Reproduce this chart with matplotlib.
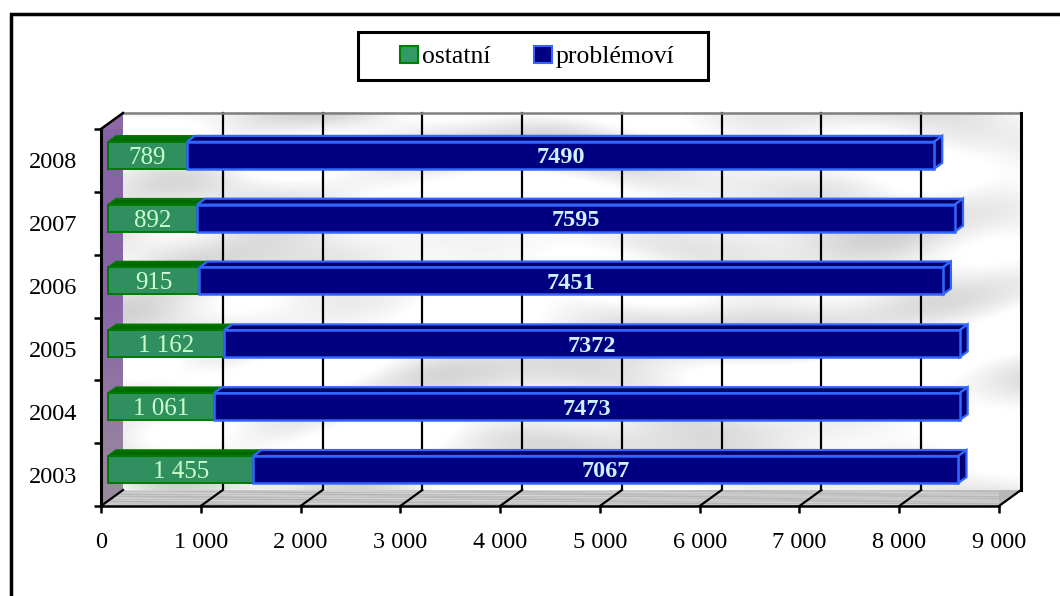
import numpy as np
import matplotlib
matplotlib.use("Agg")
import matplotlib.pyplot as plt
from matplotlib.patches import Polygon, Patch, Rectangle
from matplotlib.colors import LinearSegmentedColormap
import matplotlib.transforms as mtransforms

# ---- data ----
years = ["2003", "2004", "2005", "2006", "2007", "2008"]
ostatni = [1455, 1061, 1162, 915, 892, 789]
problemovi = [7067, 7473, 7372, 7451, 7595, 7490]
ostatni_labels = ["1 455", "1 061", "1 162", "915", "892", "789"]
problemovi_labels = ["7067", "7473", "7372", "7451", "7595", "7490"]
x_ticks = [0, 1000, 2000, 3000, 4000, 5000, 6000, 7000, 8000, 9000]
x_tick_labels = ["0", "1 000", "2 000", "3 000", "4 000", "5 000",
                 "6 000", "7 000", "8 000", "9 000"]
series_names = ["ostatní", "problémoví"]

plt.rcParams["font.family"] = ["Liberation Serif", "DejaVu Serif"]

W, H, DPI = 1060, 596, 100
fig = plt.figure(figsize=(W / DPI, H / DPI), dpi=DPI)
fig.patch.set_facecolor("white")

# front plane of the 3-D box
ax = fig.add_axes([101 / W, (H - 506) / H, 898 / W, 377 / H])
XMAX, NCAT = 9000, len(years)
ax.set_xlim(0, XMAX)
ax.set_ylim(0, NCAT)
ax.patch.set_visible(False)

# depth direction expressed in data units (22 px right, 16 px up)
bb = ax.get_window_extent()
KX = 22 / bb.width * XMAX
KY = 16 / bb.height * NCAT


def proj(x, y, f):
    return (x + f * KX, y + f * KY)


def poly(points, **kw):
    p = Polygon([proj(*pt) for pt in points], closed=True,
                transform=ax.transData, clip_on=False, **kw)
    ax.add_patch(p)
    return p


# ---- back wall with soft cloudy texture ----
ny, nx = 240, 600
yy, xx = np.mgrid[0:1:ny * 1j, 0:1:nx * 1j]
cloud = (np.sin(xx * 9 + np.sin(yy * 7) * 2.5 + yy * 4)
         + 0.8 * np.sin(xx * 17 - yy * 23 + np.sin(xx * 5) * 3)
         + 0.6 * np.sin(yy * 31 + np.sin(xx * 11) * 2)
         + 0.4 * np.sin(xx * 29 + yy * 13))
cloud = (cloud - cloud.min()) / (cloud.max() - cloud.min())
cloud = 1.0 - 0.2 * np.clip(cloud - 0.35, 0, None) / 0.65
wall = ax.imshow(cloud, extent=(KX, XMAX + KX, KY, NCAT + KY), origin="lower",
                 cmap="gray", vmin=0, vmax=1, aspect="auto", zorder=0,
                 interpolation="bilinear")
wall.set_clip_on(False)

# gridlines on the back wall
for xv in x_ticks[1:-1]:
    ax.plot(*zip(proj(xv, 0, 1), proj(xv, NCAT, 1)), color="black", lw=1.6,
            clip_on=False, zorder=1)
ax.plot(*zip(proj(0, NCAT, 1), proj(XMAX, NCAT, 1)), color="#808080", lw=1.8,
        clip_on=False, zorder=1)
ax.plot(*zip(proj(XMAX, 0, 1), proj(XMAX, NCAT, 1)), color="black", lw=2.2,
        clip_on=False, zorder=1)

# ---- floor ----
floor_poly = poly([(0, 0, 0), (XMAX, 0, 0), (XMAX, 0, 1), (0, 0, 1)],
                  facecolor="#b8b8b8", edgecolor="none", zorder=2)
fy, fx = np.mgrid[0:1:60j, 0:1:600j]
streak = (np.sin(fy * 40 + np.sin(fx * 6) * 1.5)
          + 0.6 * np.sin(fy * 90 + fx * 3)
          + 0.4 * np.sin(fx * 23 + fy * 15))
streak = (streak - streak.min()) / (streak.max() - streak.min())
floor_img = ax.imshow(0.62 + 0.3 * streak,
                      extent=(0, XMAX + KX, 0, KY), origin="lower",
                      cmap="gray", vmin=0, vmax=1, aspect="auto", zorder=2,
                      interpolation="bilinear")
floor_img.set_clip_path(floor_poly)
for xv in x_ticks:
    ax.plot(*zip(proj(xv, 0, 0), proj(xv, 0, 1)), color="black", lw=1.6,
            clip_on=False, zorder=3)

# ---- left wall ----
left_poly = poly([(0, 0, 0), (0, NCAT, 0), (0, NCAT, 1), (0, 0, 1)],
                 facecolor="#8c6aa6", edgecolor="none", zorder=2)
wall_cmap = LinearSegmentedColormap.from_list("lw", ["#9a8c9c", "#8a66a8", "#8462a6"])
grad = np.linspace(0, 1, 100).reshape(-1, 1)
left_img = ax.imshow(grad, extent=(0, KX, 0, NCAT + KY), origin="lower",
                     cmap=wall_cmap, aspect="auto", zorder=2)
left_img.set_clip_path(left_poly)
ax.plot(*zip(proj(0, NCAT, 0), proj(0, NCAT, 1)), color="black", lw=1.8,
        clip_on=False, zorder=3)

# ---- bars ----
F0, F1 = 0.32, 0.69
BAR_H = 0.43
green_face, green_edge, green_top = "#2f8f5f", "#007a00", "#006a00"
blue_face, blue_edge, blue_top = "#000080", "#3366ff", "#000066"
front_tf = ax.transData + mtransforms.ScaledTranslation(
    F0 * 22 / DPI, F0 * 16 / DPI, fig.dpi_scale_trans)

for i in range(NCAT):
    g, b = ostatni[i], problemovi[i]
    yc = i + 0.5
    y0, y1 = yc - BAR_H / 2, yc + BAR_H / 2
    # top faces
    poly([(0, y1, F0), (g, y1, F0), (g, y1, F1), (0, y1, F1)],
         facecolor=green_top, edgecolor=green_edge, lw=1.2, zorder=4)
    poly([(g, y1, F0), (g + b, y1, F0), (g + b, y1, F1), (g, y1, F1)],
         facecolor=blue_top, edgecolor=blue_edge, lw=1.6, zorder=4)
    # right end face
    poly([(g + b, y0, F0), (g + b, y1, F0), (g + b, y1, F1), (g + b, y0, F1)],
         facecolor="#000070", edgecolor=blue_edge, lw=1.6, zorder=4)

ax.barh(np.arange(NCAT) + 0.5, ostatni, height=BAR_H, left=0,
        color=green_face, edgecolor=green_edge, linewidth=1.4,
        transform=front_tf, clip_on=False, zorder=5)
ax.barh(np.arange(NCAT) + 0.5, problemovi, height=BAR_H, left=ostatni,
        color=blue_face, edgecolor=blue_edge, linewidth=1.8,
        transform=front_tf, clip_on=False, zorder=5)

for i in range(NCAT):
    g, b = ostatni[i], problemovi[i]
    ax.text(g / 2, i + 0.5, ostatni_labels[i], transform=front_tf,
            ha="center", va="center_baseline", fontsize=18, color="#ccffcc",
            zorder=6)
    ax.text(g + b / 2, i + 0.5, problemovi_labels[i], transform=front_tf,
            ha="center", va="center_baseline", fontsize=17.5, color="#ccf2ff",
            fontweight="bold", zorder=6)

# ---- axes, ticks ----
for s in ["top", "right"]:
    ax.spines[s].set_visible(False)
ax.spines["left"].set_linewidth(2.2)
ax.spines["bottom"].set_linewidth(1.8)
ax.spines["left"].set_zorder(7)
ax.spines["bottom"].set_zorder(7)

ax.set_xticks(x_ticks)
ax.set_xticklabels(x_tick_labels, fontsize=17.5)
ax.tick_params(axis="x", direction="out", length=5, width=1.8, pad=14)

ax.set_yticks(np.arange(NCAT + 1))
ax.set_yticklabels([])
ax.set_yticks(np.arange(NCAT) + 0.5, minor=True)
ax.set_yticklabels(years, minor=True, fontsize=17.5)
ax.tick_params(axis="y", which="major", direction="out", length=5, width=1.8)
ax.tick_params(axis="y", which="minor", length=0, pad=17)

ax.set_xlim(0, XMAX)
ax.set_ylim(0, NCAT)

# ---- legend ----
handles = [Patch(facecolor="#339966", edgecolor="#008000", linewidth=1.5),
           Patch(facecolor="#000080", edgecolor="#3366ff", linewidth=1.5)]
leg = fig.legend(handles, series_names, loc="center",
                 bbox_to_anchor=(537 / W, 1 - 57 / H), ncol=2, fontsize=18.5,
                 frameon=False, handlelength=0.7, handleheight=0.7,
                 handletextpad=0.15, columnspacing=1.7, borderpad=0,
                 borderaxespad=0)
# legend box
fig.add_artist(Rectangle((358 / W, 1 - 80 / H), 350 / W, 48 / H,
                         transform=fig.transFigure, fill=False,
                         edgecolor="black", linewidth=2.2))

# outer chart frame (left and top edges)
fig.add_artist(Rectangle((10.5 / W, -0.2), 1.2, 1.2 - 13.5 / H,
                         transform=fig.transFigure, fill=False,
                         edgecolor="black", linewidth=2.5))

fig.savefig("out.png", dpi=DPI)
